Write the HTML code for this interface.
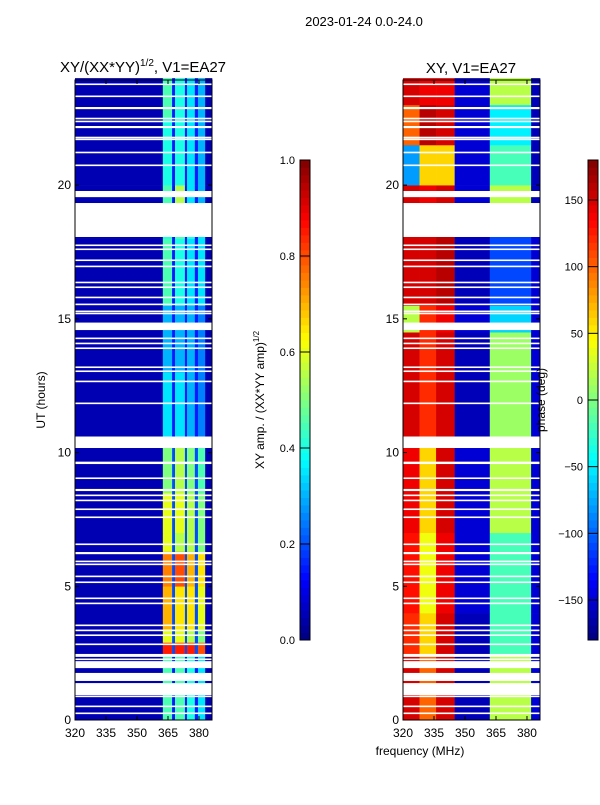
<!DOCTYPE html>
<html><head><meta charset="utf-8"><style>
body{margin:0;background:#fff;}
svg text{font-family:"Liberation Sans",sans-serif;fill:#000;}
</style></head><body>
<svg id="chart" width="600" height="800" xmlns="http://www.w3.org/2000/svg">
<rect x="0" y="0" width="600" height="800" fill="#fff"/>
<text x="364" y="26" font-size="13" text-anchor="middle">2023-01-24 0.0-24.0</text>
<text x="143" y="72" font-size="15" text-anchor="middle">XY/(XX*YY)<tspan font-size="10" dy="-6">1/2</tspan><tspan dy="6">, V1=EA27</tspan></text>
<text x="471" y="73" font-size="15" text-anchor="middle">XY, V1=EA27</text>
<g id="left-heat"></g>
<g id="right-heat"></g>
<g id="axes"></g>
<text transform="translate(45,400) rotate(-90)" font-size="12" text-anchor="middle">UT (hours)</text>
<text x="420" y="755" font-size="12" text-anchor="middle">frequency (MHz)</text>
<text transform="translate(264,400) rotate(-90)" font-size="12" text-anchor="middle">XY amp. / (XX*YY amp)<tspan font-size="8" dy="-5">1/2</tspan></text>
<text transform="translate(545,400) rotate(-90)" font-size="12" text-anchor="middle">phase (deg)</text>
</svg>
<script>
// ---- data ----
const ampBandEdges = [320, 362.5, 367, 368.4, 373.2, 374.2, 378, 379.5, 383, 386.3];
const ampSegStart = [0, 2.4, 2.9, 3.4, 5, 6.3, 7, 8.5, 10.6, 13, 15.5, 18, 19.3, 20, 22.5];
const ampSegEnd   = [2.4, 2.9, 3.4, 5, 6.3, 7, 8.5, 10.6, 13, 15.5, 18, 19.3, 20, 22.5, 24];
const ampSegValues = [
  [0.05,0.45,0.15,0.45,0.15,0.4,0.15,0.35,0.05],
  [0.05,0.85,0.2,0.85,0.2,0.85,0.2,0.8,0.05],
  [0.05,0.6,0.2,0.6,0.2,0.55,0.2,0.5,0.05],
  [0.05,0.7,0.2,0.65,0.2,0.65,0.2,0.6,0.05],
  [0.05,0.75,0.2,0.8,0.2,0.7,0.2,0.65,0.05],
  [0.05,0.6,0.2,0.55,0.2,0.55,0.2,0.5,0.05],
  [0.05,0.6,0.2,0.6,0.2,0.55,0.2,0.5,0.05],
  [0.05,0.5,0.2,0.55,0.2,0.5,0.2,0.45,0.05],
  [0.05,0.35,0.15,0.35,0.15,0.3,0.15,0.25,0.05],
  [0.05,0.3,0.15,0.3,0.15,0.3,0.15,0.25,0.05],
  [0.05,0.45,0.15,0.4,0.15,0.35,0.15,0.35,0.05],
  [0.05,0.4,0.15,0.45,0.15,0.4,0.15,0.35,0.05],
  [0.05,0.45,0.15,0.55,0.15,0.35,0.15,0.3,0.05],
  [0.05,0.4,0.15,0.4,0.15,0.35,0.15,0.3,0.05],
  [0.05,0.45,0.15,0.4,0.15,0.35,0.15,0.3,0.05]
];
const phaseBandEdges = [320, 328, 336, 345, 362, 382, 386.3];
const phaseSegStart = [0, 2.4, 4, 7, 10.6, 14.5, 15.5, 19.3, 20, 21.5, 23];
const phaseSegEnd   = [2.4, 4, 7, 10.2, 14.5, 15.5, 18.1, 20, 21.5, 23, 24];
const phaseSegValues = [
  [150,100,150,-160,20,-150],
  [120,60,150,-160,-20,-150],
  [130,40,140,-150,-20,-150],
  [140,60,150,-150,20,-150],
  [150,120,150,-160,10,-150],
  [20,120,140,-150,-60,-150],
  [150,150,160,-160,-110,-150],
  [150,140,150,-150,20,-160],
  [-80,60,60,-150,-20,-160],
  [100,160,150,-150,-50,-160],
  [150,140,140,-150,20,-160]
];
const flagStart = [23.74,23.29,22.84,22.46,22.35,22.13,21.75,21.68,21.19,20.71,19.55,18.06,17.72,17.57,17.16,16.93,16.33,16.15,15.77,15.51,15.25,15.17,14.58,14.24,14.05,13.87,13.16,13.01,12.63,11.81,10.17,9.6,9.57,9.01,8.56,8.37,8.18,7.85,7.55,6.54,6.2,5.9,5.79,5.34,5.12,4.52,4.33,3.51,3.32,3.14,2.8,2.36,2.24,1.94,1.46,0.93,0.86,0.48,0.22];
const flagEnd   = [23.8,23.35,22.92,22.52,22.41,22.21,21.81,21.74,21.25,20.77,19.78,19.33,17.78,17.63,17.22,16.99,16.39,16.21,15.83,15.57,15.31,15.23,14.86,14.3,14.11,13.93,13.22,13.07,12.69,11.87,10.6,9.66,9.63,9.07,8.64,8.43,8.24,7.91,7.61,6.6,6.28,5.96,5.85,5.4,5.18,4.58,4.39,3.57,3.38,3.2,2.86,2.47,2.3,2.2,1.76,1.38,0.91,0.54,0.28];
const hourTicks = [0,5,10,15,20];
const freqTicks = [320,335,350,365,380];
const ampTicks = [0.0,0.2,0.4,0.6,0.8,1.0];
const phaseTicks = [-150,-100,-50,0,50,100,150];

// ---- helpers ----
const NS = "http://www.w3.org/2000/svg";
function jet(v){
  v=Math.max(0,Math.min(1,v));
  const r=Math.max(0,Math.min(1,1.5-Math.abs(4*v-3)));
  const g=Math.max(0,Math.min(1,1.5-Math.abs(4*v-2)));
  const b=Math.max(0,Math.min(1,1.5-Math.abs(4*v-1)));
  return `rgb(${Math.round(r*255)},${Math.round(g*255)},${Math.round(b*255)})`;
}
function mk(tag, attrs, parent){
  const e=document.createElementNS(NS,tag);
  for(const k in attrs) e.setAttribute(k,attrs[k]);
  parent.appendChild(e); return e;
}
const FMIN=320, FMAX=386.3, HMAX=23.93, YB=720, YT=80;
function yScale(h){return YB-(h/HMAX)*(YB-YT);}
function xScale(x0,x1){return f=>x0+(f-FMIN)/(FMAX-FMIN)*(x1-x0);}
const svg=document.getElementById('chart');
const axes=document.getElementById('axes');

function drawHeat(g, xs, edges, starts, ends, vals, norm, namePrefix){
  for(let s=0;s<starts.length;s++){
    for(let b=0;b<edges.length-1;b++){
      const x=xs(edges[b]), w=xs(edges[b+1])-x;
      const y=yScale(ends[s]), h=yScale(starts[s])-y;
      const r=mk('rect',{x:x,y:y,width:w+0.3,height:h+0.3,fill:jet(norm(vals[s][b]))},g);
      
      
    }
  }
  for(let i=0;i<flagStart.length;i++){
    const y=yScale(flagEnd[i]), h=yScale(flagStart[i])-y;
    const r=mk('rect',{x:xs(FMIN),y:y,width:xs(FMAX)-xs(FMIN),height:Math.max(h,1.5),fill:'#fff'},g);
    
    
  }
}
function drawAxes(x0,x1,name){
  const xs=xScale(x0,x1);
  const fr=mk('rect',{x:x0,y:YT,width:x1-x0,height:YB-YT,fill:'none',stroke:'#000','stroke-width':1},axes);
  
  
  hourTicks.forEach(h=>{
    const y=yScale(h);
    mk('line',{x1:x0,x2:x0+4,y1:y,y2:y,stroke:'#000'},axes);
    mk('line',{x1:x1,x2:x1-4,y1:y,y2:y,stroke:'#000'},axes);
    const t=mk('text',{x:x0-4,y:y+4,'font-size':12,'text-anchor':'end'},axes);
    t.textContent=h;
    
    
  });
  freqTicks.forEach(f=>{
    const x=xs(f);
    mk('line',{x1:x,x2:x,y1:YB,y2:YB-4,stroke:'#000'},axes);
    mk('line',{x1:x,x2:x,y1:YT,y2:YT+4,stroke:'#000'},axes);
    const t=mk('text',{x:x,y:YB+17,'font-size':12,'text-anchor':'middle'},axes);
    t.textContent=f;
    
    
  });
}
function drawColorbar(x, lo, hi, ticks, fmt, name){
  const g=mk('g',{},svg);
  
  
  const n=64, top=160, bot=640;
  for(let i=0;i<n;i++){
    const y=bot-(i+1)*(bot-top)/n;
    mk('rect',{x:x,y:y,width:10,height:(bot-top)/n+0.4,fill:jet((i+0.5)/n)},g);
  }
  mk('rect',{x:x,y:top,width:10,height:bot-top,fill:'none',stroke:'#000'},g);
  ticks.forEach(v=>{
    const y=bot-(v-lo)/(hi-lo)*(bot-top);
    mk('line',{x1:x,x2:x+10,y1:y,y2:y,stroke:'#000'},g);
    const t=mk('text',{x:x-5,y:y+4,'font-size':11,'text-anchor':'end'},g);
    t.textContent=fmt(v).replace('-','\u2212');
    
    
  });
}
drawHeat(document.getElementById('left-heat'), xScale(75,212), ampBandEdges, ampSegStart, ampSegEnd, ampSegValues, v=>v, 'amp');
drawHeat(document.getElementById('right-heat'), xScale(403,540), phaseBandEdges, phaseSegStart, phaseSegEnd, phaseSegValues, v=>(v+180)/360, 'phase');
drawAxes(75,212,'left-axes');
drawAxes(403,540,'right-axes');
drawColorbar(300,0,1,ampTicks,v=>v.toFixed(1),'amp-colorbar');
drawColorbar(588,-180,180,phaseTicks,v=>String(v),'phase-colorbar');
</script>
</body></html>
